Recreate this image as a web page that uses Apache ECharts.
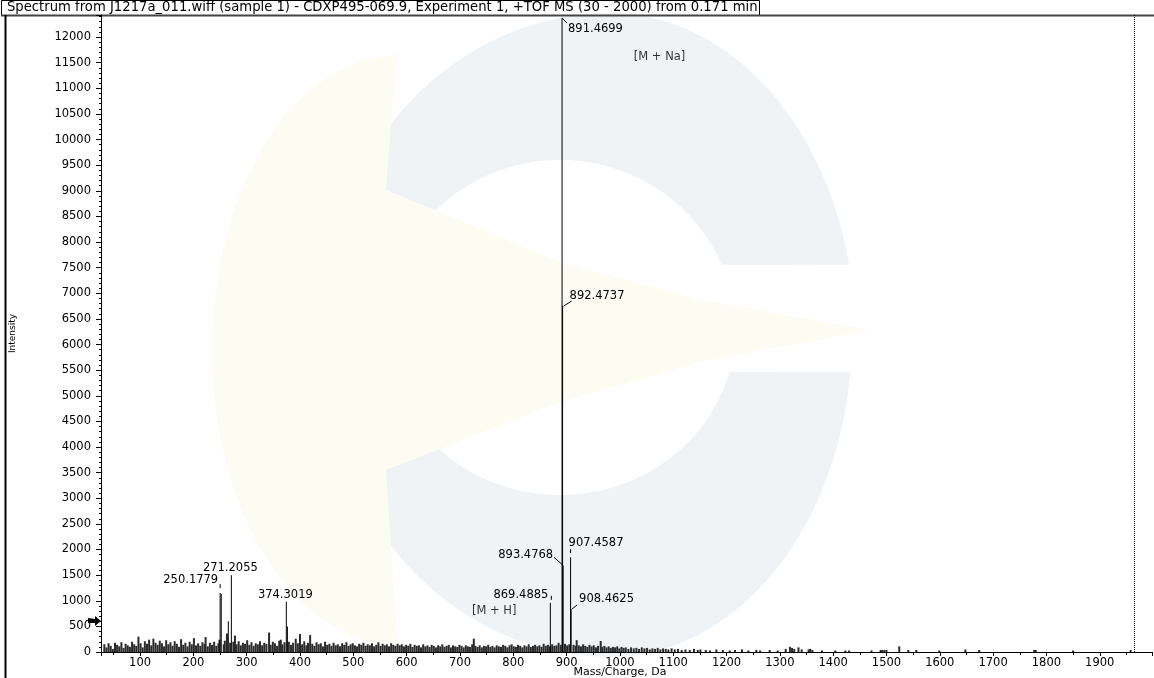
<!doctype html>
<html lang="en">
<head>
<meta charset="UTF-8" />
<title>TOF MS spectrum</title>
<style>
html, body { margin: 0; padding: 0; background: #fff; }
#main { width: 1154px; height: 678px; }
</style>
</head>
<body>
<div id="main"></div>
<script src="https://cdn.jsdelivr.net/npm/echarts@6/dist/echarts.min.js"></script>
<script type="text/javascript">
// values
var titleText = 'Spectrum from J1217a_011.wiff (sample 1) - CDXP495-069.9, Experiment 1, +TOF MS (30 - 2000) from 0.171 min';
var xName = 'Mass/Charge, Da';

var peakMz   = [250.1779, 252.2, 265.5, 271.2055, 374.3019, 376.3, 869.4885, 891.4699, 892.4737, 893.4768, 907.4587, 908.4625];
var peakInt  = [1150, 1130, 600, 1500, 980, 500, 960, 12370, 6750, 1690, 1850, 840];
var peakText = ['250.1779', '', '', '271.2055', '374.3019', '', '869.4885', '891.4699', '892.4737', '893.4768', '907.4587', '908.4625'];

// background peaks [m/z, intensity]
var noise = [
  [32,150],[36,90],[40,170],[44,120],[48,60],[52,180],[56,140],[60,110],[64,190],[68,80],
  [72,160],[76,130],[80,100],[84,200],[88,150],[92,120],[96,300],[100,170],[104,90],[108,210],
  [112,160],[116,240],[120,130],[124,260],[128,180],[132,140],[136,220],[140,170],[144,110],[148,230],
  [152,150],[156,190],[160,120],[164,210],[168,160],[172,100],[176,250],[180,140],[184,180],[188,110],
  [192,200],[196,150],[200,270],[204,130],[208,170],[212,120],[216,190],[220,160],[222,290],[226,110],
  [230,180],[234,140],[238,200],[242,120],[246,170],[248,240],[256,150],[258,220],[262,360],[268,180],
  [274,200],[277,320],[280,150],[284,210],[288,130],[292,180],[296,160],[300,230],[304,140],[308,190],
  [312,120],[316,170],[320,150],[324,210],[328,130],[332,180],[336,160],[341,380],[344,140],[348,200],
  [352,170],[356,120],[360,220],[363,240],[366,150],[370,190],[378,200],[382,140],[386,180],[391,260],
  [395,170],[399,350],[403,150],[407,210],[411,130],[414,180],[418,330],[422,160],[426,120],[430,190],
  [434,150],[438,170],[442,110],[446,200],[450,140],[454,160],[458,120],[462,180],[466,130],[470,150],
  [474,110],[478,170],[482,140],[486,190],[490,120],[494,150],[498,170],[502,130],[506,110],[510,160],
  [514,140],[518,180],[522,120],[526,150],[530,130],[534,170],[538,110],[542,140],[546,190],[550,120],
  [554,160],[558,130],[562,150],[566,110],[570,170],[574,140],[578,120],[582,160],[586,130],[590,150],
  [594,110],[598,140],[602,120],[606,160],[610,100],[614,140],[618,120],[622,130],[626,90],[630,150],
  [634,110],[638,130],[642,100],[646,140],[650,120],[654,90],[658,130],[662,110],[666,150],[670,100],
  [674,120],[678,140],[682,90],[686,130],[690,110],[694,100],[698,140],[702,120],[706,90],[710,130],
  [714,110],[718,100],[722,150],[725,260],[728,120],[732,100],[736,130],[740,90],[744,120],[748,110],
  [752,140],[756,100],[760,120],[764,90],[768,130],[772,110],[776,100],[780,140],[784,120],[788,90],
  [792,130],[796,150],[800,110],[804,100],[808,140],[812,120],[816,90],[820,130],[824,110],[828,150],
  [832,100],[836,120],[840,140],[844,110],[848,130],[852,100],[856,160],[860,120],[864,140],[868,110],
  [872,150],[876,120],[880,130],[884,180],[888,140],[896,160],[900,130],[904,150],[912,140],[916,120],
  [918,230],[922,130],[926,110],[930,150],[934,120],[938,100],[942,140],[946,110],[950,130],[954,90],
  [958,120],[963,215],[966,100],[970,120],[974,90],[978,110],[982,80],[986,100],[990,90],[994,110],
  [998,70],[1002,100],[1006,80],[1010,90],[1015,60],[1020,90],[1025,70],[1030,80],[1035,60],[1040,90],
  [1045,70],[1050,80],[1055,50],[1060,70],[1065,60],[1070,80],[1075,50],[1080,70],[1085,60],[1090,50],
  [1096,70],[1102,50],[1108,60],[1115,40],[1122,50],[1130,40],[1138,60],[1145,40],[1150,50],[1160,40],
  [1168,30],[1180,50],[1192,40],[1205,30],[1215,40],[1228,50],[1240,30],[1255,40],[1262,30],[1280,40],
  [1295,30],[1310,60],[1318,100],[1322,80],[1326,60],[1334,90],[1340,50],[1353,50],[1356,60],[1360,40],
  [1378,30],[1403,30],[1422,30],[1429,30],[1471,30],[1488,40],[1491,40],[1495,40],[1499,40],[1523,110],
  [1540,40],[1555,40],[1598,30],[1647,50],[1673,40],[1776,40],[1779,40],[1849,30],[1957,40]
];

// adduct notes [m/z, intensity, text]
var notes = [[1026, 11610, '[M + Na]'], [722.5, 794, '[M + H]']];

var thresholdLevel = 605;  // arrow on the intensity axis
var cutoffMz = 1964;       // dotted line on the right

var xMin = 26.7, xMax = 1998;
var yMax = 12430;

// where each peak label sits relative to the peak top (pixels), plus its leader stroke
var labelPlace = {
  '250.1779': { align: 'right',  offset: [-2, -13], leader: [0, -9, 0, -5] },
  '271.2055': { align: 'center', offset: [-1, -7] },
  '374.3019': { align: 'center', offset: [-1, -7] },
  '869.4885': { align: 'right',  offset: [-2, -8], leader: [1, -7, 1, -3] },
  '891.4699': { align: 'left',   offset: [6, 11], leader: [0, 0, 5, 5] },
  '892.4737': { align: 'left',   offset: [7, -10], leader: [1, 0, 9, -5] },
  '893.4768': { align: 'right',  offset: [-10, -10], leader: [-9, -8, 0, 0] },
  '907.4587': { align: 'left',   offset: [-2, -14], leader: [0, -8, 0, -4] },
  '908.4625': { align: 'left',   offset: [8, -10], leader: [1, 0, 6, -4] }
};

var font = 'DejaVu Sans';
var chart = echarts.init(document.getElementById('main'));

var peakData = peakMz.map(function (m, i) {
  var item = { value: [m, peakInt[i]] };
  if (peakText[i]) {
    var pl = labelPlace[peakText[i]];
    item.label = {
      show: true, formatter: peakText[i], position: 'top', distance: 0,
      align: pl.align, verticalAlign: 'middle', offset: pl.offset,
      color: '#000', fontFamily: font, fontSize: 11.5
    };
  }
  return item;
});

// peaks that carry a small leader stroke to their label
var leaderData = [];
peakMz.forEach(function (m, i) {
  var pl = labelPlace[peakText[i]];
  if (pl && pl.leader) leaderData.push([m, peakInt[i], i]);
});

// faint logo in the background (decoration only)
function arc(cx, cy, rx, ry, a0, a1, n) {
  var pts = [];
  for (var k = 0; k <= n; k++) {
    var a = (a0 + (a1 - a0) * k / n) * Math.PI / 180;
    pts.push([cx + rx * Math.cos(a), cy - ry * Math.sin(a)]);
  }
  return pts;
}
var upperArm = arc(610, 335, 245, 322, 12.6, 90, 30)
  .concat(arc(610, 335, 290, 322, 90, 155, 30))
  .concat(arc(560, 330, 175, 170, 160, 22.5, 40));
var lowerArm = arc(610, 335, 242, 322, -6.6, -90, 30)
  .concat(arc(610, 335, 290, 322, -90, -155, 30))
  .concat(arc(560, 330, 175, 165, -160, -14.7, 40));
var yellowPart = arc(398, 350, 186, 295, 90, 270, 40)
  .concat([[392, 560], [386, 470], [560, 402], [700, 362], [870, 330], [700, 300], [560, 262], [386, 190], [392, 110]]);

var watermark = [
  { type: 'polygon', silent: true, z: -10, shape: { points: upperArm }, style: { fill: '#f0f3f6' } },
  { type: 'polygon', silent: true, z: -10, shape: { points: lowerArm }, style: { fill: '#f0f3f6' } },
  { type: 'polygon', silent: true, z: -9, shape: { points: yellowPart }, style: { fill: '#fcfcf2' } }
];

var frame = [
  { type: 'rect', silent: true, shape: { x: 1.5, y: 0.5, width: 758, height: 15 }, style: { fill: 'none', stroke: '#000', lineWidth: 1 } },
  { type: 'line', silent: true, shape: { x1: 1, y1: 15.5, x2: 1154, y2: 15.5 }, style: { stroke: '#444', lineWidth: 2 } },
  { type: 'line', silent: true, shape: { x1: 5.5, y1: 15, x2: 5.5, y2: 678 }, style: { stroke: '#000', lineWidth: 2 } },
  { type: 'text', silent: true, left: 7, top: 1, style: { text: titleText, fill: '#000', font: '13.2px "' + font + '"' } },
  { type: 'text', silent: true, x: 620, y: 672.5,
    style: { text: xName, fill: '#000', font: '11px "' + font + '"', align: 'center', verticalAlign: 'middle' } }
];

var option = {
  animation: false,
  backgroundColor: '#fff',
  grid: { left: 101, right: 2, top: 15, bottom: 26, containLabel: false, outerBoundsMode: 'none' },
  xAxis: {
    type: 'value', min: xMin, max: xMax, splitNumber: 20,
    axisLine: { lineStyle: { color: '#000', width: 1 } },
    axisTick: { length: 4, lineStyle: { color: '#000' } },
    minorTick: { show: true, splitNumber: 2, length: 3, lineStyle: { color: '#000' } },
    splitLine: { show: false },
    axisLabel: {
      color: '#000', fontFamily: font, fontSize: 11.5, margin: 5,
      formatter: function (v) { return Math.abs(v % 100) < 1e-6 ? String(v) : ''; }
    }
  },
  yAxis: {
    type: 'value', min: 0, max: yMax, interval: 500,
    name: 'Intensity', nameLocation: 'middle', nameGap: 84, nameRotate: 90,
    nameTextStyle: { color: '#000', fontFamily: font, fontSize: 9 },
    axisLine: { lineStyle: { color: '#000', width: 1 } },
    axisTick: { length: 5, lineStyle: { color: '#000' } },
    minorTick: { show: true, splitNumber: 5, length: 2, lineStyle: { color: '#000' } },
    splitLine: { show: false },
    axisLabel: {
      color: '#000', fontFamily: font, fontSize: 11.5, margin: 10,
      formatter: function (v) { return v % 500 === 0 ? String(v) : ''; }
    }
  },
  series: [
    {
      name: 'noise',
      type: 'bar',
      barWidth: 2,
      barGap: '-100%',
      silent: true,
      itemStyle: { color: '#2a2a2a' },
      data: noise,
      markLine: {
        silent: true, symbol: ['none', 'none'], label: { show: false },
        lineStyle: { type: [1, 1], color: '#000', width: 1 },
        data: [{ xAxis: cutoffMz }]
      }
    },
    {
      name: 'peaks',
      type: 'bar',
      barWidth: 1,
      barGap: '-100%',
      silent: true,
      itemStyle: { color: '#000' },
      data: peakData
    },
    {
      type: 'custom',
      silent: true,
      data: leaderData,
      renderItem: function (params, api) {
        var p = api.coord([api.value(0), api.value(1)]);
        var L = labelPlace[peakText[api.value(2)]].leader;
        return {
          type: 'line',
          shape: { x1: p[0] + L[0], y1: p[1] + L[1], x2: p[0] + L[2], y2: p[1] + L[3] },
          style: { stroke: '#000', lineWidth: 1 }
        };
      }
    },
    {
      type: 'scatter',
      symbolSize: 0,
      silent: true,
      data: notes.map(function (n) { return { value: [n[0], n[1]], name: n[2] }; }),
      label: {
        show: true, position: 'inside', align: 'left', verticalAlign: 'middle',
        formatter: function (p) { return p.name; },
        color: '#000', fontFamily: font, fontSize: 11.5
      }
    }
  ],
  graphic: watermark.concat(frame)
};
chart.setOption(option);

// arrow marker on the intensity axis
var tip = chart.convertToPixel({ gridIndex: 0 }, [xMin, thresholdLevel]);
chart.setOption({
  graphic: watermark.concat(frame).concat([{
    type: 'polygon', silent: true,
    shape: { points: [
      [tip[0], tip[1]], [tip[0] - 6, tip[1] - 5], [tip[0] - 6, tip[1] - 2],
      [tip[0] - 13, tip[1] - 3], [tip[0] - 13, tip[1] + 2], [tip[0] - 6, tip[1] + 2], [tip[0] - 6, tip[1] + 5]
    ] },
    style: { fill: '#000' }
  }])
});
</script>
</body>
</html>
